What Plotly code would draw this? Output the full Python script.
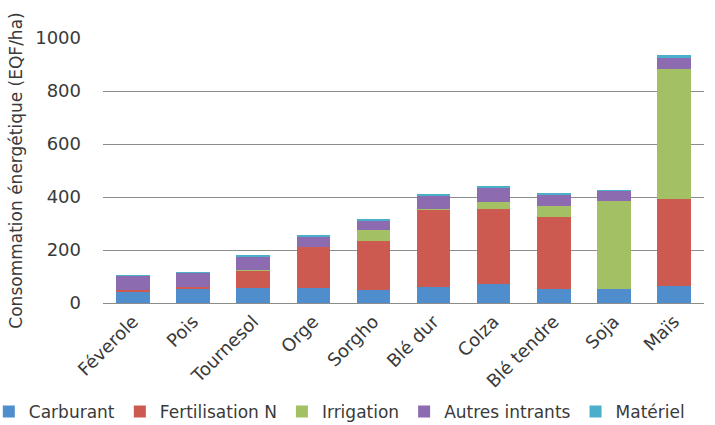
import plotly.graph_objects as go

categories = ["Féverole", "Pois", "Tournesol", "Orge", "Sorgho", "Blé dur", "Colza", "Blé tendre", "Soja", "Maïs"]
carburant = [45, 52, 58, 58, 50, 62, 73, 53, 53, 63]
fertilisation = [3, 8, 64, 153, 184, 290, 280, 273, 0, 331]
irrigation = [0, 0, 4, 0, 43, 3, 29, 41, 333, 489]
autres = [54, 55, 51, 38, 35, 50, 52, 44, 37, 42]
materiel = [2, 2, 5, 8, 3, 4, 5, 3, 3, 10]

series = [
    ("Carburant", carburant, "#508DCC"),
    ("Fertilisation N", fertilisation, "#CD5A50"),
    ("Irrigation", irrigation, "#A3C164"),
    ("Autres intrants", autres, "#8C6BB0"),
    ("Matériel", materiel, "#4BAFCB"),
]

font = "DejaVu Sans, sans-serif"
fig = go.Figure()
for name, vals, col in series:
    fig.add_trace(go.Bar(x=categories, y=vals, name=name, marker=dict(color=col, line=dict(width=0)), width=0.56))

fig.update_layout(
    barmode="stack",
    width=715, height=425,
    margin=dict(l=103, r=11, t=38, b=122, autoexpand=False),
    paper_bgcolor="white", plot_bgcolor="white",
    font=dict(family=font, size=18, color="#3a3a3a"),
    showlegend=True,
    legend=dict(orientation="h", x=-0.19, xanchor="left", y=-0.343, yanchor="top",
                font=dict(size=17, color="#3a3a3a"), traceorder="normal",
                itemwidth=30, tracegroupgap=0),
    xaxis=dict(tickangle=-45, showline=True, linecolor="#8c8c8c", linewidth=1,
               ticks="", automargin=False, tickfont=dict(size=18, color="#3a3a3a")),
    yaxis=dict(range=[0, 1000], dtick=200, showgrid=True, gridcolor="#8c8c8c", gridwidth=1,
               zeroline=False, showline=False, ticks="", ticklen=0, ticklabelstandoff=21,
               automargin=False,
               tickfont=dict(size=18, color="#3a3a3a"),
               title=dict(text="Consommation énergétique (EQF/ha)", font=dict(size=17, color="#3a3a3a"), standoff=8)),
)
fig.write_html("out.html", config={"displayModeBar": False},
               post_script="document.body.style.margin='0px';")
